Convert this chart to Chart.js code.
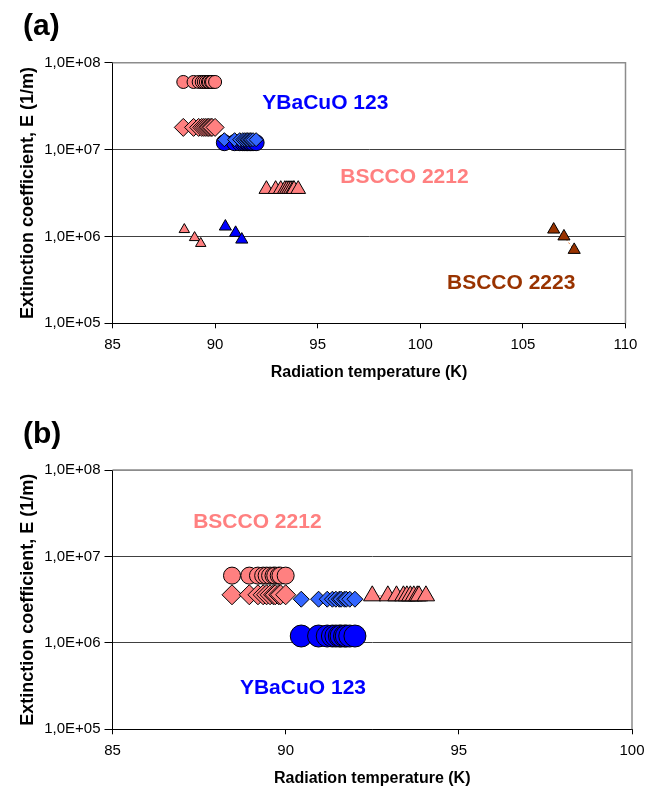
<!DOCTYPE html>
<html>
<head>
<meta charset="utf-8">
<script src="https://cdn.jsdelivr.net/npm/chart.js@4.4.1/dist/chart.umd.min.js"></script>
<style>
  html, body { margin: 0; padding: 0; background: #fff; }
  body { width: 655px; height: 788px; position: relative; overflow: hidden; }
  .panel { position: absolute; left: 0; width: 655px; height: 394px; }
  #panelA { top: 0; }
  #panelB { top: 394px; }
</style>
</head>
<body>
<div class="panel" id="panelA"><canvas id="chartA" width="655" height="394"></canvas></div>
<div class="panel" id="panelB"><canvas id="chartB" width="655" height="394"></canvas></div>
<script>
const FONT = '"Liberation Sans", Arial, sans-serif';

// log axis: decades only
const yTickValues = [1e5, 1e6, 1e7, 1e8];
const yTickLabels = ['1,0E+05', '1,0E+06', '1,0E+07', '1,0E+08'];

// radiation temperatures (K)
const tempBscco = [88.45, 88.95, 89.2, 89.35, 89.45, 89.55, 89.65, 89.7, 89.8, 89.85, 90.0];
const tempYbco  = [90.45, 90.95, 91.2, 91.35, 91.45, 91.55, 91.6, 91.7, 91.75, 91.85, 92.0];
const tempTri   = [92.5, 92.95, 93.2, 93.4, 93.5, 93.6, 93.7, 93.8, 93.85, 94.05];

// (a) extinction coefficient E (1/m)
const eCircBsccoA = [6e7, 6e7, 6e7, 6e7, 6e7, 6e7, 6e7, 6e7, 6e7, 6e7, 6e7];
const eDiamBsccoA = [1.8e7, 1.8e7, 1.8e7, 1.8e7, 1.8e7, 1.8e7, 1.8e7, 1.8e7, 1.8e7, 1.8e7, 1.8e7];
const eDiamYbcoA  = [1.3e7, 1.3e7, 1.3e7, 1.3e7, 1.3e7, 1.3e7, 1.3e7, 1.3e7, 1.3e7, 1.3e7, 1.3e7];
const eCircYbcoA  = [1.2e7, 1.2e7, 1.2e7, 1.2e7, 1.2e7, 1.2e7, 1.2e7, 1.2e7, 1.2e7, 1.2e7, 1.2e7];
const eTriBsccoA  = [3.5e6, 3.5e6, 3.5e6, 3.5e6, 3.5e6, 3.5e6, 3.5e6, 3.5e6, 3.5e6, 3.5e6];

const tempBsccoSmall = [88.5, 89.0, 89.3];
const eBsccoSmall    = [1.2e6, 0.97e6, 0.83e6];
const tempYbcoSmall  = [90.5, 91.0, 91.3];
const eYbcoSmall     = [1.3e6, 1.1e6, 0.92e6];
const temp2223       = [106.5, 107.0, 107.5];
const e2223          = [1.2e6, 1.0e6, 0.7e6];

// (b) extinction coefficient E (1/m)
const eCircBsccoB = [6e6, 6e6, 6e6, 6e6, 6e6, 6e6, 6e6, 6e6, 6e6, 6e6, 6e6];
const eDiamBsccoB = [3.6e6, 3.6e6, 3.6e6, 3.6e6, 3.6e6, 3.6e6, 3.6e6, 3.6e6, 3.6e6, 3.6e6, 3.6e6];
const eDiamYbcoB  = [3.2e6, 3.2e6, 3.2e6, 3.2e6, 3.2e6, 3.2e6, 3.2e6, 3.2e6, 3.2e6, 3.2e6, 3.2e6];
const eCircYbcoB  = [1.2e6, 1.2e6, 1.2e6, 1.2e6, 1.2e6, 1.2e6, 1.2e6, 1.2e6, 1.2e6, 1.2e6, 1.2e6];
const eTriBsccoB  = [3.5e6, 3.5e6, 3.5e6, 3.5e6, 3.5e6, 3.5e6, 3.5e6, 3.5e6, 3.5e6, 3.5e6];

const PINK = '#ff8080';
const BLUE = '#0000ff';
const LIGHT_BLUE = '#3366ff';
const BROWN = '#993300';

const pts = (xs, ys) => xs.map((x, i) => ({ x: x, y: ys[i] }));

const series = (xs, ys, style, color, radius, line, dash) => ({
  data: pts(xs, ys),
  pointStyle: style,
  pointRadius: radius,
  pointBackgroundColor: color,
  pointBorderColor: '#000',
  pointBorderWidth: 1,
  showLine: !!line,
  borderColor: line || color,
  borderWidth: 1,
  borderDash: dash || []
});

// plot frame, text notes and panel letter
const decor = {
  id: 'decor',
  beforeDatasetsDraw(chart) {
    const { ctx, chartArea: a } = chart;
    ctx.save();
    ctx.strokeStyle = '#8c8c8c';
    ctx.lineWidth = 1.5;
    ctx.beginPath();
    ctx.moveTo(a.left, a.top);
    ctx.lineTo(a.right, a.top);
    ctx.lineTo(a.right, a.bottom);
    ctx.stroke();
    ctx.restore();
  },
  afterDraw(chart, args, opts) {
    const { ctx, scales: { x, y } } = chart;
    ctx.save();
    ctx.textBaseline = 'middle';
    ctx.textAlign = 'left';
    opts.notes.forEach(n => {
      ctx.fillStyle = n.color;
      ctx.font = 'bold 21px ' + FONT;
      ctx.fillText(n.text, x.getPixelForValue(n.x), y.getPixelForValue(n.y));
    });
    ctx.fillStyle = '#000';
    ctx.font = 'bold 30px ' + FONT;
    ctx.fillText(opts.letter, 23, opts.letterY);
    ctx.restore();
  }
};

function makeChart(id, datasets, xMax, box, notes, letter, letterY) {
  return new Chart(document.getElementById(id), {
    type: 'scatter',
    data: { datasets: datasets },
    plugins: [decor],
    options: {
      responsive: false,
      animation: false,
      layout: { padding: { top: box.top, right: box.right, left: 0, bottom: 0 } },
      plugins: {
        legend: { display: false },
        tooltip: { enabled: false },
        decor: { notes: notes, letter: letter, letterY: letterY }
      },
      scales: {
        x: {
          type: 'linear',
          min: 85,
          max: xMax,
          afterFit(s) { s.height = box.xHeight; s.paddingLeft = 0; s.paddingRight = 0; },
          ticks: { stepSize: 5, padding: 8, color: '#000', font: { family: FONT, size: 15 } },
          grid: { drawOnChartArea: false, drawTicks: true, tickLength: 5, tickColor: '#000' },
          border: { display: true, color: '#000', width: 1 },
          title: {
            display: true,
            text: 'Radiation temperature (K)',
            color: '#000',
            font: { family: FONT, size: 16, weight: 'bold' },
            padding: { top: 0, bottom: box.xTitlePad }
          }
        },
        y: {
          type: 'logarithmic',
          min: 1e5,
          max: 1e8,
          afterBuildTicks(s) { s.ticks = yTickValues.map(v => ({ value: v })); },
          afterFit(s) { s.width = 112.5; s.paddingTop = 0; s.paddingBottom = 0; },
          ticks: {
            padding: 4,
            color: '#000',
            font: { family: FONT, size: 15 },
            callback: (v) => yTickLabels[yTickValues.indexOf(v)]
          },
          grid: {
            drawTicks: true,
            tickLength: 8,
            tickColor: '#000',
            lineWidth: 1,
            color: (c) => (c.tick && c.tick.value === 1e8) ? '#8c8c8c' : '#404040'
          },
          border: { display: true, color: '#000', width: 1 },
          title: {
            display: true,
            text: 'Extinction coefficient, E (1/m)',
            color: '#000',
            font: { family: FONT, size: 18, weight: 'bold' },
            padding: { top: 17.5, bottom: 0 }
          }
        }
      }
    }
  });
}

makeChart('chartA', [
  series(tempBscco, eCircBsccoA, 'circle', PINK, 6.5),
  series(tempYbco, eDiamYbcoA, 'rectRot', LIGHT_BLUE, 7),
  series(tempYbco, eCircYbcoA, 'circle', BLUE, 8),
  series(tempBscco, eDiamBsccoA, 'rectRot', PINK, 9),
  series(tempTri, eTriBsccoA, 'triangle', PINK, 8.5),
  series(tempBsccoSmall, eBsccoSmall, 'triangle', PINK, 6),
  series(tempYbcoSmall, eYbcoSmall, 'triangle', BLUE, 7),
  series(temp2223, e2223, 'triangle', BROWN, 7, '#e08040', [2, 2])
], 110, { top: 62.7, right: 29.5, xHeight: 70.7, xTitlePad: 11.4 }, [
  { text: 'YBaCuO 123', x: 92.3, y: 3.4e7, color: BLUE },
  { text: 'BSCCO 2212', x: 96.1, y: 4.8e6, color: PINK },
  { text: 'BSCCO 2223', x: 101.3, y: 2.9e5, color: BROWN }
], '(a)', 27);

makeChart('chartB', [
  series(tempBscco, eCircBsccoB, 'circle', PINK, 8.5),
  series(tempBscco, eDiamBsccoB, 'rectRot', PINK, 10),
  series(tempYbco, eDiamYbcoB, 'rectRot', LIGHT_BLUE, 8),
  series(tempTri, eTriBsccoB, 'triangle', PINK, 10, PINK),
  series(tempYbco, eCircYbcoB, 'circle', BLUE, 11)
], 100, { top: 76, right: 23, xHeight: 58.7, xTitlePad: 0 }, [
  { text: 'BSCCO 2212', x: 87.33, y: 2.5e7, color: PINK },
  { text: 'YBaCuO 123', x: 88.68, y: 3.0e5, color: BLUE }
], '(b)', 41);
</script>
</body>
</html>
